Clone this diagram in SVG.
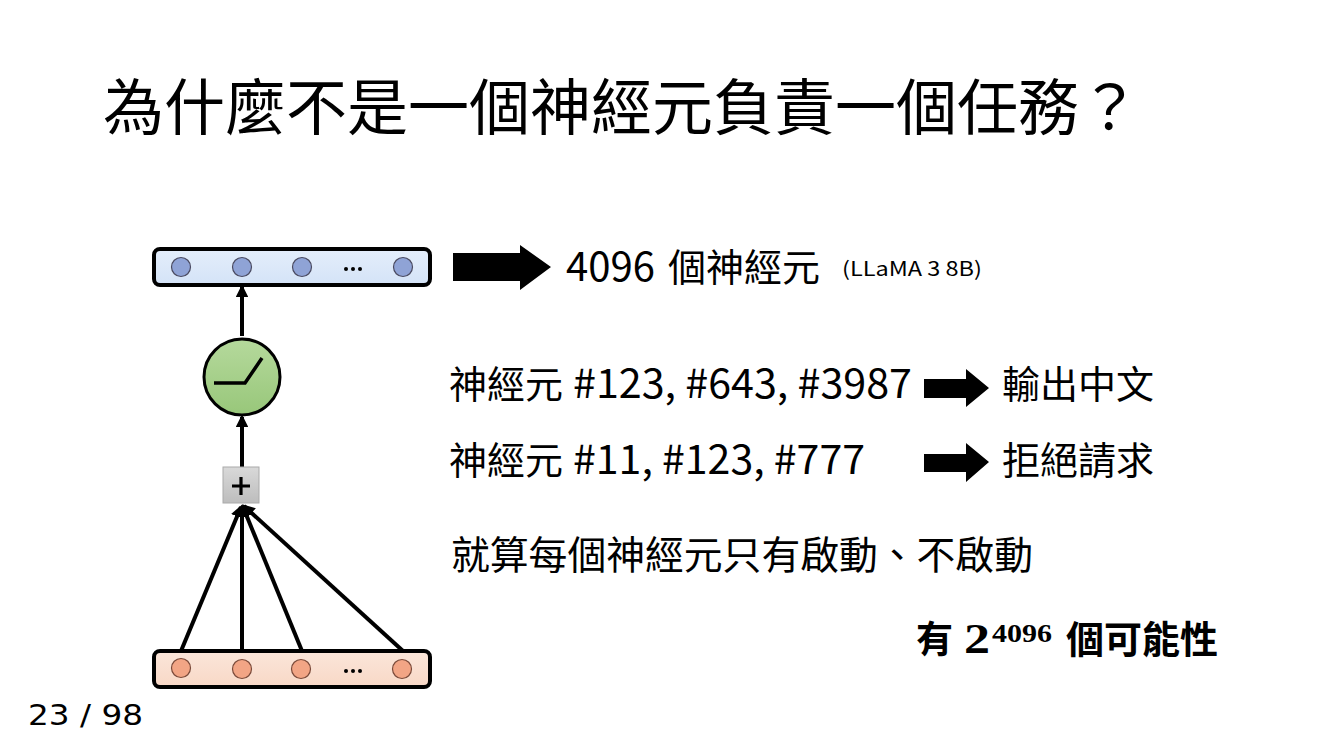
<svg xmlns="http://www.w3.org/2000/svg" width="1334" height="750" viewBox="0 0 1334 750">
<style>
.t{font-family:"Noto Sans CJK TC","Noto Sans",sans-serif;fill:#000}
.bar{stroke:#000;stroke-width:4}
.nb{fill:#8fa3d6;stroke:#4a4a60;stroke-width:1.2}
.no{fill:#f2a585;stroke:#7a4a3a;stroke-width:1.2}
.dot{fill:#000}
.ln{stroke:#000;stroke-width:4;fill:none}
.b{font-weight:bold}
.m{font-family:"Liberation Serif",serif;font-weight:bold;fill:#000}
</style>
<defs>
<marker id="ah" viewBox="0 0 10 10" refX="8" refY="5" markerWidth="3.2" markerHeight="3.2" orient="auto" markerUnits="strokeWidth">
<path d="M0,0 L10,5 L0,10 z" fill="#000"/>
</marker>
<linearGradient id="gb" x1="0" y1="0" x2="0" y2="1"><stop offset="0" stop-color="#e4eefb"/><stop offset="1" stop-color="#d4e3f7"/></linearGradient>
<linearGradient id="go" x1="0" y1="0" x2="0" y2="1"><stop offset="0" stop-color="#fbe6da"/><stop offset="1" stop-color="#f8d8c6"/></linearGradient>
<linearGradient id="gg" x1="0" y1="0" x2="0" y2="1"><stop offset="0" stop-color="#b5d99c"/><stop offset="1" stop-color="#98c77a"/></linearGradient>
<linearGradient id="gp" x1="0" y1="0" x2="0" y2="1"><stop offset="0" stop-color="#d9d9d9"/><stop offset="1" stop-color="#bdbdbd"/></linearGradient>
</defs>
<rect width="1334" height="750" fill="#fff"/>
<text class="t" x="103" y="130" font-size="61">為什麼不是一個神經元負責一個任務？</text>

<g id="connectors">
<line class="ln" x1="242" y1="336" x2="242" y2="287" marker-end="url(#ah)"/>
<line class="ln" x1="242" y1="467" x2="242" y2="417" marker-end="url(#ah)"/>
<line class="ln" x1="181" y1="651" x2="241" y2="507" marker-end="url(#ah)"/>
<line class="ln" x1="242" y1="651" x2="242" y2="507" marker-end="url(#ah)"/>
<line class="ln" x1="302" y1="651" x2="243" y2="507" marker-end="url(#ah)"/>
<line class="ln" x1="403" y1="651" x2="244" y2="506" marker-end="url(#ah)"/>
</g>

<g id="output-layer">
<rect class="bar" x="154" y="249" width="276" height="36" rx="6" fill="url(#gb)"/>
<circle class="nb" cx="181" cy="267" r="9.5"/>
<circle class="nb" cx="242" cy="267" r="9.5"/>
<circle class="nb" cx="302" cy="267" r="9.5"/>
<circle class="nb" cx="403" cy="267" r="9.5"/>
<circle class="dot" cx="346" cy="269" r="2"/><circle class="dot" cx="353" cy="269" r="2"/><circle class="dot" cx="360" cy="269" r="2"/>
</g>

<g id="relu">
<circle cx="242" cy="377" r="38" fill="url(#gg)" stroke="#000" stroke-width="3"/>
<path d="M214,383 L245,383 L262,358" fill="none" stroke="#000" stroke-width="3.5"/>
</g>

<g id="sum">
<rect x="223" y="467" width="36" height="36" fill="url(#gp)" stroke="#aaa" stroke-width="1"/>
<path d="M241,477 V495 M232,486 H250" stroke="#000" stroke-width="3.2"/>
</g>

<g id="input-layer">
<rect class="bar" x="154" y="651" width="276" height="36" rx="6" fill="url(#go)"/>
<circle class="no" cx="181" cy="668" r="9.5"/>
<circle class="no" cx="242" cy="669" r="9.5"/>
<circle class="no" cx="301" cy="669" r="9.5"/>
<circle class="no" cx="402" cy="669" r="9.5"/>
<circle class="dot" cx="346" cy="671" r="2"/><circle class="dot" cx="353" cy="671" r="2"/><circle class="dot" cx="360" cy="671" r="2"/>
</g>

<g id="big-arrow">
<path d="M453,253 H520 V245 L551,267 L520,290 V281 H453 z" fill="#000"/>
</g>
<text class="t" x="566" y="281" font-size="40" textLength="89" lengthAdjust="spacingAndGlyphs">4096</text>
<text class="t" x="668" y="281" font-size="38">個神經元</text>
<text class="t" x="842" y="276" font-size="20" textLength="140" lengthAdjust="spacingAndGlyphs">(LLaMA 3 8B)</text>

<text class="t" x="449" y="398" font-size="38">神經元</text>
<text class="t" x="573" y="398" font-size="40" textLength="339" lengthAdjust="spacingAndGlyphs">#123, #643, #3987</text>
<g id="arrow1"><path d="M924,379 H966 V369 L989,388 L966,407 V398 H924 z" fill="#000"/></g>
<text class="t" x="1002" y="398" font-size="38">輸出中文</text>

<text class="t" x="449" y="474" font-size="38">神經元</text>
<text class="t" x="573" y="474" font-size="40" textLength="292" lengthAdjust="spacingAndGlyphs">#11, #123, #777</text>
<g id="arrow2"><path d="M924,454 H966 V443 L989,462 L966,482 V472 H924 z" fill="#000"/></g>
<text class="t" x="1002" y="474" font-size="38">拒絕請求</text>

<text class="t" x="451" y="569" font-size="38.8">就算每個神經元只有啟動、不啟動</text>

<text class="t b" x="916" y="653" font-size="37">有</text>
<text class="m" x="964" y="653" font-size="42" textLength="26" lengthAdjust="spacingAndGlyphs">2</text>
<text class="m" x="992" y="642" font-size="26" textLength="60" lengthAdjust="spacingAndGlyphs">4096</text>
<text class="t b" x="1066" y="653" font-size="38">個可能性</text>

<text x="28" y="725" font-size="29" font-family="DejaVu Sans,sans-serif" textLength="115" lengthAdjust="spacingAndGlyphs">23 / 98</text>
</svg>
